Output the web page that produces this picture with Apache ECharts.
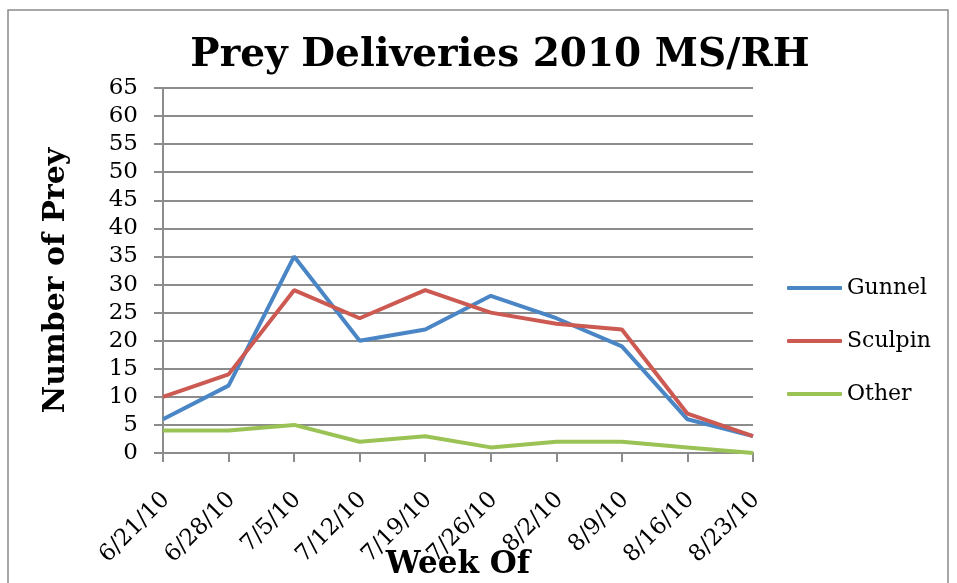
<!DOCTYPE html>
<html>
<head>
<meta charset="utf-8">
<script src="https://cdn.jsdelivr.net/npm/echarts@6/dist/echarts.min.js"></script>
<style>
  html, body { margin: 0; padding: 0; background: #fff; }
</style>
</head>
<body>
<div id="chart" style="width: 957px; height: 583px;"></div>
<script>
// week labels and counts
const weeks = ['6/21/10', '6/28/10', '7/5/10', '7/12/10', '7/19/10', '7/26/10', '8/2/10', '8/9/10', '8/16/10', '8/23/10']
const gunnel = [6, 12, 35, 20, 22, 28, 24, 19, 6, 3]
const sculpin = [10, 14, 29, 24, 29, 25, 23, 22, 7, 3]
const other = [4, 4, 5, 2, 3, 1, 2, 2, 1, 0]

const serif = 'DejaVu Serif'
const gray = '#8c8c8c'

const makeLine = (name, data, color) => ({
  name,
  type: 'line',
  data,
  symbol: 'none',
  lineStyle: { width: 4, color },
  itemStyle: { color }
})

const option = {
  animation: false,
  title: {
    text: 'Prey Deliveries 2010 MS/RH',
    left: 495,
    textAlign: 'center',
    top: 31,
    textStyle: { fontFamily: serif, fontWeight: 'bold', fontSize: 39, color: '#000' }
  },
  legend: {
    orient: 'vertical',
    left: 782,
    top: 272,
    itemGap: 31,
    itemWidth: 55,
    itemHeight: 4,
    icon: 'roundRect',
    data: ['Gunnel', 'Sculpin', 'Other'],
    textStyle: { fontFamily: serif, fontSize: 22, color: '#000' }
  },
  graphic: [{
    type: 'rect',
    shape: { x: 8, y: 10, width: 940, height: 590 },
    style: { fill: 'none', stroke: '#8a8a8a', lineWidth: 1.5 }
  }],
  grid: { left: 163, right: 204, top: 88, bottom: 130, outerBoundsMode: 'none', containLabel: false },
  xAxis: {
    type: 'category',
    data: weeks,
    boundaryGap: false,
    name: 'Week Of',
    nameLocation: 'middle',
    nameGap: 96,
    nameMoveOverlap: false,
    nameTextStyle: { fontFamily: serif, fontWeight: 'bold', fontSize: 31, color: '#000' },
    axisLine: { lineStyle: { color: gray, width: 2 } },
    axisTick: { alignWithLabel: true, length: 9, lineStyle: { color: gray, width: 2 } },
    axisLabel: { rotate: 45, fontFamily: serif, fontSize: 23, color: '#000', margin: 30, verticalAlign: 'top', padding: [0, 7, 0, 0], interval: 0 }
  },
  yAxis: {
    type: 'value',
    min: 0,
    max: 65,
    interval: 5,
    name: 'Number of Prey',
    nameLocation: 'middle',
    nameGap: 92,
    nameTextStyle: { fontFamily: serif, fontWeight: 'bold', fontSize: 30, color: '#000', padding: [0, 20, 0, 0] },
    axisLine: { show: true, lineStyle: { color: gray, width: 2 } },
    axisTick: { show: true, length: 9, lineStyle: { color: gray, width: 2 } },
    axisLabel: { fontFamily: serif, fontSize: 23, color: '#000', margin: 25 },
    splitLine: { lineStyle: { color: gray, width: 2 } }
  },
  series: [
    makeLine('Gunnel', gunnel, '#4a86c5'),
    makeLine('Sculpin', sculpin, '#cc5a52'),
    makeLine('Other', other, '#9bc255')
  ]
}

const chart = echarts.init(document.getElementById('chart'))
chart.setOption(option)
</script>
</body>
</html>
